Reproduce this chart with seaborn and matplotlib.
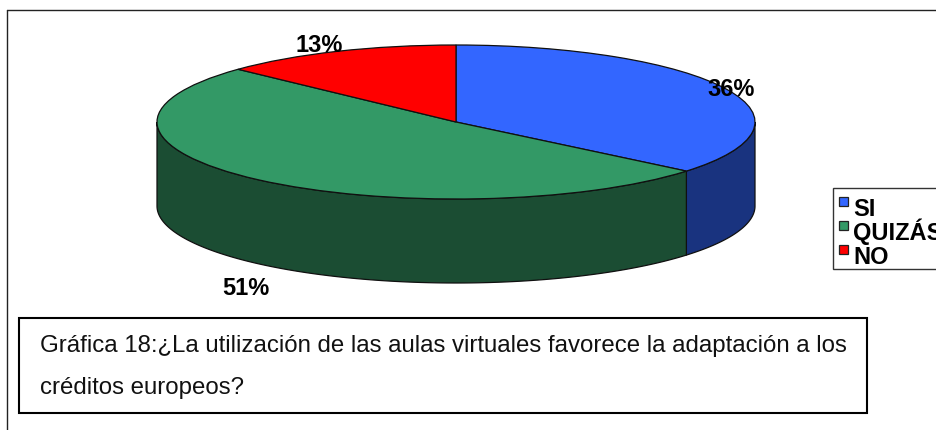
import numpy as np
import matplotlib
matplotlib.use("Agg")
import matplotlib.pyplot as plt
from matplotlib.patches import Rectangle
import seaborn as sns

categories = ["SI", "QUIZÁS", "NO"]
values = [36, 51, 13]
top_colors = ["#3366FF", "#339966", "#FF0000"]
side_colors = ["#19337F", "#1B4D33", "#7F0000"]
caption_lines = ["Gráfica 18:¿La utilización de las aulas virtuales favorece la adaptación a los",
                 "créditos europeos?"]

sns.set_theme(style="white")
plt.rcParams['font.family'] = ['Liberation Sans', 'DejaVu Sans']

W, H = 936, 431
fig = plt.figure(figsize=(W / 100, H / 100), dpi=100, facecolor='white')

# overlay in pixel coordinates for frame, caption and labels
page = fig.add_axes([0, 0, 1, 1], zorder=2)
page.set_xlim(0, W)
page.set_ylim(H, 0)
page.axis('off')

# pie axes: unit circle is squashed into the top ellipse
ax = fig.add_axes([157 / W, (H - 200) / H, 598 / W, 154 / H], zorder=1)
wedges, _ = ax.pie(values, colors=top_colors, startangle=90, counterclock=False,
                   wedgeprops=dict(edgecolor='#101010', linewidth=0.9, clip_on=False, zorder=3))
ax.set_aspect('auto')
ax.set_xlim(-1, 1)
ax.set_ylim(-1, 1)
ax.axis('off')

# side wall, only the front half of the cake shows
depth = 84 / 77
edges = np.concatenate([[0], np.cumsum(values)]) / np.sum(values) * 2 * np.pi
for i in range(len(values)):
    a = max(edges[i], np.pi / 2)
    b = min(edges[i + 1], 3 * np.pi / 2)
    if b <= a:
        continue
    t = np.linspace(a, b, 200)
    x, y = np.sin(t), np.cos(t)
    ax.fill(np.r_[x, x[::-1]], np.r_[y, y[::-1] - depth], facecolor=side_colors[i],
            edgecolor='#101010', linewidth=0.9, clip_on=False, zorder=2)

label_font = dict(fontsize=17, fontweight='bold', color='black', ha='center', va='baseline', zorder=5)
page.text(731, 96, f"{values[0]}%", **label_font)
page.text(246, 295, f"{values[1]}%", **label_font)
page.text(319, 52, f"{values[2]}%", **label_font)

# outer chart frame, only top and left are visible
page.plot([7, W], [11, 11], color='#222222', lw=1.0)
page.plot([7, 7], [11, H], color='#222222', lw=1.0)

# caption box
page.add_patch(Rectangle((19, 319), 848, 95, facecolor='white', edgecolor='black', lw=1.5, zorder=4))
page.text(40, 352, caption_lines[0], fontsize=17.3, color='#111111', va='baseline', zorder=5)
page.text(40, 394, caption_lines[1], fontsize=17.3, color='#111111', va='baseline', zorder=5)

# legend drawn by hand so the rows stay even, it runs off the right edge like the original
page.add_patch(Rectangle((833, 189), 120, 81, facecolor='white', edgecolor='#333333', lw=1.0, zorder=4))
for i, name in enumerate(categories):
    page.add_patch(Rectangle((838.5, 198 + 24 * i), 9, 9, facecolor=top_colors[i],
                             edgecolor='#222222', lw=0.9, zorder=5))
    page.text(853, 216.5 + 23.7 * i, name, fontsize=17, fontweight='bold', color='black',
              va='baseline', zorder=5)

fig.savefig("out.png", dpi=100)
